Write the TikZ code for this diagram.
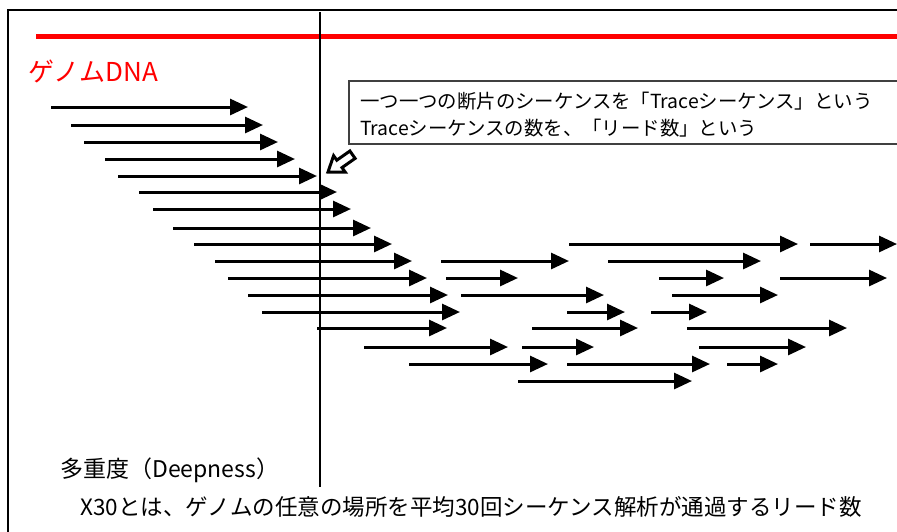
\documentclass[tikz,border=0pt]{standalone}
\usepackage{fontspec}
\setmainfont{Noto Sans CJK JP}
\usetikzlibrary{arrows.meta}
\begin{document}
\begin{tikzpicture}[x=1pt,y=-1pt,
  readarrow/.style={line width=3pt,-{Triangle[length=18pt,width=16pt]}},
  boxline/.style={line width=1.5pt,draw=black!75},
  txt/.style={inner sep=0pt,anchor=west}]
\useasboundingbox (0,0) rectangle (897,531);
\clip (0,0) rectangle (897,531);
% frame
\draw[line width=2.2pt] (900,10) -- (8,10) -- (8,540);
% genome line
\draw[red,line width=5pt] (36,36) -- (900,36);
\node[txt,text=red,font=\fontsize{26}{26}\selectfont] (genome) at (28,71) {ゲノムDNA};
% position line
\draw[line width=2pt] (320,12) -- (320,487);
% reads
\foreach \a/\y/\b in {51/107/248, 71/125/263, 84/142/278, 105/159/295, 118/176/317,
  139/192/337, 153/209/351, 173/228/371, 194/244/392, 215/261/412, 228/278/427,
  248/295/448, 262/312/460, 317/328/447, 364/347/508, 409/364/548,
  569/244/798, 810/244/897, 441/261/569, 608/261/761, 446/278/518, 659/278/724,
  780/278/887, 461/295/604, 672/295/778, 567/312/625, 651/312/707, 532/328/638,
  687/328/847, 522/347/594, 699/347/806, 567/364/710, 727/364/778, 518/381/692}
  \draw[readarrow] (\a,\y) -- (\b,\y);
% callout box
\draw[boxline] (900,81) -- (349,81) -- (349,144) -- (900,144);
\node[txt,font=\fontsize{19.4}{19.4}\selectfont] (t1) at (360,101) {一つ一つの断片のシーケンスを「Traceシーケンス」という};
\node[txt,font=\fontsize{19.4}{19.4}\selectfont] (t2) at (360,128) {Traceシーケンスの数を、「リード数」という};
% hollow pointer arrow
\draw[line width=3pt,fill=white,line join=miter]
  (328,172) -- (345.2,172.1) -- (342.0,167.6) -- (355.1,158.4) -- (349.9,151.0)
  -- (336.8,160.2) -- (333.6,155.7) -- cycle;
% bottom texts
\node[txt,font=\fontsize{23}{23}\selectfont] (deep) at (60,470) {多重度（Deepness）};
\node[inner sep=0pt,font=\fontsize{22.5}{22.5}\selectfont] (x30) at (471,507) {X30とは、ゲノムの任意の場所を平均30回シーケンス解析が通過するリード数};
\end{tikzpicture}
\end{document}
